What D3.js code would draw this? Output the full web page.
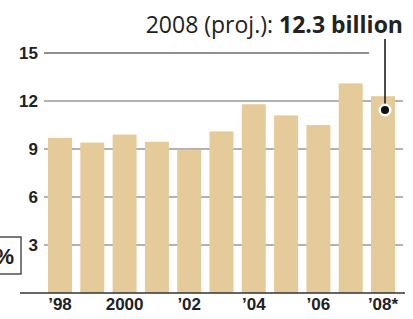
<!DOCTYPE html>
<html>
<head>
<meta charset="UTF-8">
<script src="https://cdn.jsdelivr.net/npm/d3@7"></script>
<style>
    body { margin: 0; background: #fff; }
    .tick-label { font-family: "Liberation Sans Narrow", "Arial Narrow", sans-serif; font-weight: bold; fill: #222; }
</style>
</head>
<body>
<svg id="chart" width="413" height="319"></svg>
<script>
// chart data
var years = ["1998", "1999", "2000", "2001", "2002", "2003", "2004", "2005", "2006", "2007", "2008"];
var values = [9.7, 9.4, 9.9, 9.45, 8.95, 10.1, 11.8, 11.1, 10.5, 13.1, 12.3];
var yTicks = [3, 6, 9, 12, 15];
var xLabels = {"1998": "\u201998", "2000": "2000", "2002": "\u201902", "2004": "\u201904", "2006": "\u201906", "2008": "\u201908*"};

var svg = d3.select("#chart");

var x = d3.scaleBand()
    .domain(years)
    .range([43.85, 399.15])
    .paddingInner(0.257)
    .paddingOuter(0.1285);

var y = d3.scaleLinear()
    .domain([0, 15])
    .range([293, 53]);

// gridlines (behind bars)
svg.selectAll("line.grid")
    .data(yTicks)
    .enter()
    .append("line")
    .attr("class", "grid")
    .attr("x1", 44)
    .attr("x2", function(d) { return d === 15 ? 369 : 403; })
    .attr("y1", function(d) { return y(d); })
    .attr("y2", function(d) { return y(d); })
    .attr("stroke", function(d) { return d === 15 ? "#222" : "#666"; })
    .attr("stroke-width", 1.2);

svg.selectAll("text.ylab")
    .data(yTicks)
    .enter()
    .append("text")
    .attr("class", "tick-label")
    .attr("x", 38)
    .attr("y", function(d) { return y(d) + 6; })
    .attr("text-anchor", "end")
    .attr("font-size", 17)
    .text(function(d) { return d; });

// bars
svg.selectAll("rect.bar")
    .data(values)
    .enter()
    .append("rect")
    .attr("class", "bar")
    .attr("x", function(d, i) { return x(years[i]); })
    .attr("width", x.bandwidth())
    .attr("y", function(d) { return y(d); })
    .attr("height", function(d) { return y(0) - y(d); })
    .attr("fill", "#e5cb9a");

// baseline
svg.append("line")
    .attr("x1", 20).attr("x2", 405)
    .attr("y1", y(0)).attr("y2", y(0))
    .attr("stroke", "#333")
    .attr("stroke-width", 1.5);

// x labels
svg.selectAll("text.xlab")
    .data(years.filter(function(d) { return xLabels[d]; }))
    .enter()
    .append("text")
    .attr("class", "tick-label")
    .attr("x", function(d) { return x(d) + x.bandwidth() / 2; })
    .attr("y", 310)
    .attr("text-anchor", "middle")
    .attr("font-size", 17)
    .text(function(d) { return xLabels[d]; });

// unit box, cut off at the left edge
svg.append("rect")
    .attr("x", -40).attr("y", 237)
    .attr("width", 61).attr("height", 37)
    .attr("fill", "#fff")
    .attr("stroke", "#222")
    .attr("stroke-width", 1.2);
svg.append("text")
    .attr("class", "tick-label")
    .attr("x", 14)
    .attr("y", 264)
    .attr("text-anchor", "end")
    .attr("font-size", 22)
    .text("%");

// annotation for 2008
var lastYear = years[years.length - 1];
var cx = x(lastYear) + x.bandwidth() / 2 + 2;
svg.append("line")
    .attr("x1", cx).attr("x2", cx)
    .attr("y1", 39).attr("y2", 110)
    .attr("stroke", "#111")
    .attr("stroke-width", 1.5);
svg.append("circle")
    .attr("cx", cx).attr("cy", 110)
    .attr("r", 6.5)
    .attr("fill", "#fff");
svg.append("circle")
    .attr("cx", cx).attr("cy", 110)
    .attr("r", 4)
    .attr("fill", "#111");

var note = svg.append("text")
    .attr("x", 403)
    .attr("y", 33)
    .attr("text-anchor", "end")
    .attr("font-family", "'Open Sans', Lato, sans-serif")
    .attr("font-size", 23)
    .attr("fill", "#222");
note.append("tspan")
    .attr("font-weight", 400)
    .text("2008 (proj.): ");
note.append("tspan")
    .attr("font-weight", "bold")
    .text(values[values.length - 1] + " billion");
</script>
</body>
</html>
